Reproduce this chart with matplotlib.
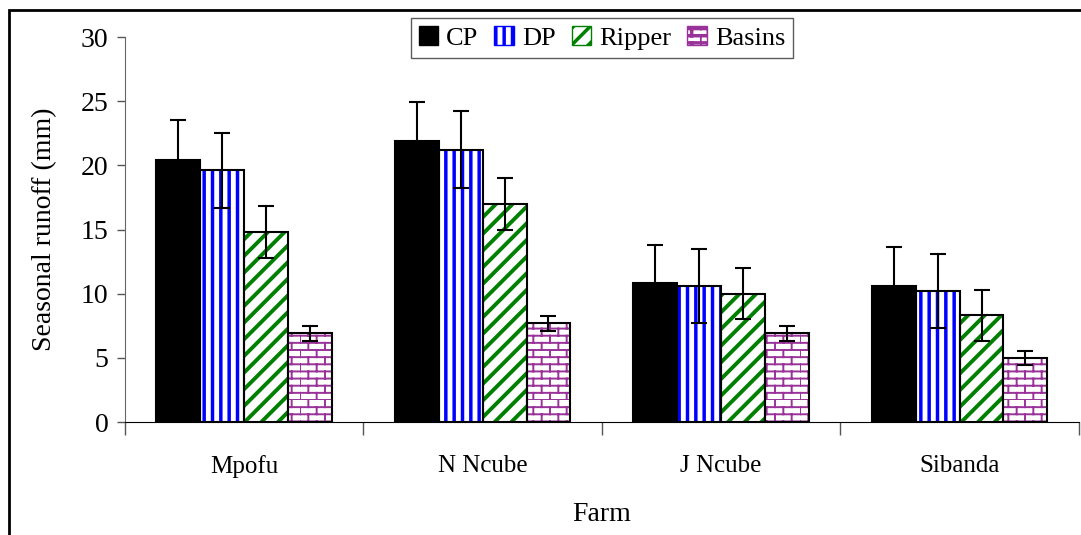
import warnings
import numpy as np
import matplotlib
matplotlib.use("Agg")
import matplotlib.pyplot as plt
import matplotlib.hatch as mhatch
from matplotlib.path import Path
from matplotlib.patches import Patch, Rectangle

warnings.filterwarnings("ignore")


class BrickHatch(mhatch.HatchPatternBase):
    # brick wall hatch, triggered by 'b' in the hatch string
    def __init__(self, hatch, density):
        self.rows = 14 if 'b' in hatch else 0
        self.cols = 6
        self.num_vertices = self.rows * 2 + self.rows * self.cols * 2

    def set_vertices_and_codes(self, vertices, codes):
        h = 1.0 / self.rows
        k = 0
        for i in range(self.rows):
            vertices[k] = (0.0, i * h)
            vertices[k + 1] = (1.0, i * h)
            codes[k], codes[k + 1] = Path.MOVETO, Path.LINETO
            k += 2
            for j in range(self.cols):
                x = (j + 0.5 * (i % 2)) / self.cols
                vertices[k] = (x, i * h)
                vertices[k + 1] = (x, (i + 1) * h)
                codes[k], codes[k + 1] = Path.MOVETO, Path.LINETO
                k += 2


mhatch._hatch_types.append(BrickHatch)

plt.rcParams['font.family'] = ['Liberation Serif', 'DejaVu Serif']
plt.rcParams['hatch.linewidth'] = 2.5

farms = ["Mpofu", "N Ncube", "J Ncube", "Sibanda"]
treatments = ["CP", "DP", "Ripper", "Basins"]
means = {
    "CP":     [20.4, 21.9, 10.8, 10.6],
    "DP":     [19.6, 21.2, 10.6, 10.2],
    "Ripper": [14.8, 17.0, 10.0, 8.3],
    "Basins": [6.9, 7.7, 6.9, 5.0],
}
errors = {
    "CP":     [3.1, 3.0, 3.0, 3.0],
    "DP":     [2.95, 3.0, 2.9, 2.9],
    "Ripper": [2.0, 2.0, 2.0, 2.0],
    "Basins": [0.55, 0.57, 0.6, 0.55],
}

styles = {
    "CP":     dict(face="black", hatch=None, hcol="black", lw=2.5),
    "DP":     dict(face="white", hatch="||", hcol="#0000FF", lw=2.5),
    "Ripper": dict(face="white", hatch="//", hcol="#008000", lw=2.8),
    "Basins": dict(face="white", hatch="b", hcol="#993399", lw=1.4),
}

fig = plt.figure(figsize=(10.81, 5.35), dpi=100)
ax = fig.add_axes([0.1156, 0.2112, 0.8824, 0.7196])

x = np.arange(len(farms))
w = 0.184
for i, t in enumerate(treatments):
    pos = x + (i - 1.5) * w
    st = styles[t]
    with plt.rc_context({'hatch.linewidth': st["lw"]}):
        ax.bar(pos, means[t], w, color=st["face"], edgecolor=st["hcol"],
               hatch=st["hatch"], linewidth=0, zorder=2)
    ax.bar(pos, means[t], w, fill=False, edgecolor="black", linewidth=1.5, zorder=3)
    ax.errorbar(pos, means[t], yerr=errors[t], fmt="none", ecolor="black",
                elinewidth=1.5, capsize=6, capthick=1.5, zorder=4)

ax.set_xlim(-0.5, len(farms) - 0.5)
ax.set_ylim(0, 30)
ax.set_yticks(np.arange(0, 31, 5))
ax.set_xticks(x)
ax.set_xticklabels(farms, fontsize=18)
ax.set_xticks(np.arange(-0.5, len(farms), 1), minor=True)
ax.tick_params(axis="x", which="major", length=0, pad=24)
ax.tick_params(axis="x", which="minor", length=9, width=1, color="#555555")
ax.tick_params(axis="y", labelsize=20, length=6, width=1, color="#555555", pad=6)
for s in ["top", "right"]:
    ax.spines[s].set_visible(False)
ax.spines["left"].set_color("#666666")
ax.spines["bottom"].set_color("black")
ax.set_ylabel("Seasonal runoff (mm)", fontsize=20, labelpad=17)
ax.set_xlabel("Farm", fontsize=20, labelpad=17)

handles = []
for t in treatments:
    st = styles[t]
    with plt.rc_context({'hatch.linewidth': st["lw"] * 0.7}):
        handles.append(Patch(facecolor=st["face"],
                             edgecolor=st["hcol"] if t != "CP" else "black",
                             hatch=st["hatch"], linewidth=1))
leg = ax.legend(handles, treatments, loc="upper center", bbox_to_anchor=(0.5, 1.049),
                ncol=4, fontsize=19, frameon=True, fancybox=False, edgecolor="#333333",
                handlelength=0.75, handleheight=0.75, handletextpad=0.3,
                columnspacing=0.6, borderpad=0.3, borderaxespad=0)
leg.get_frame().set_linewidth(1)

fig.patches.append(Rectangle((9 / 1081, -0.1), 1.2, 1 - 10 / 535 + 0.1,
                             transform=fig.transFigure, fill=False,
                             edgecolor="black", linewidth=2))

fig.savefig("out.png", dpi=100)
